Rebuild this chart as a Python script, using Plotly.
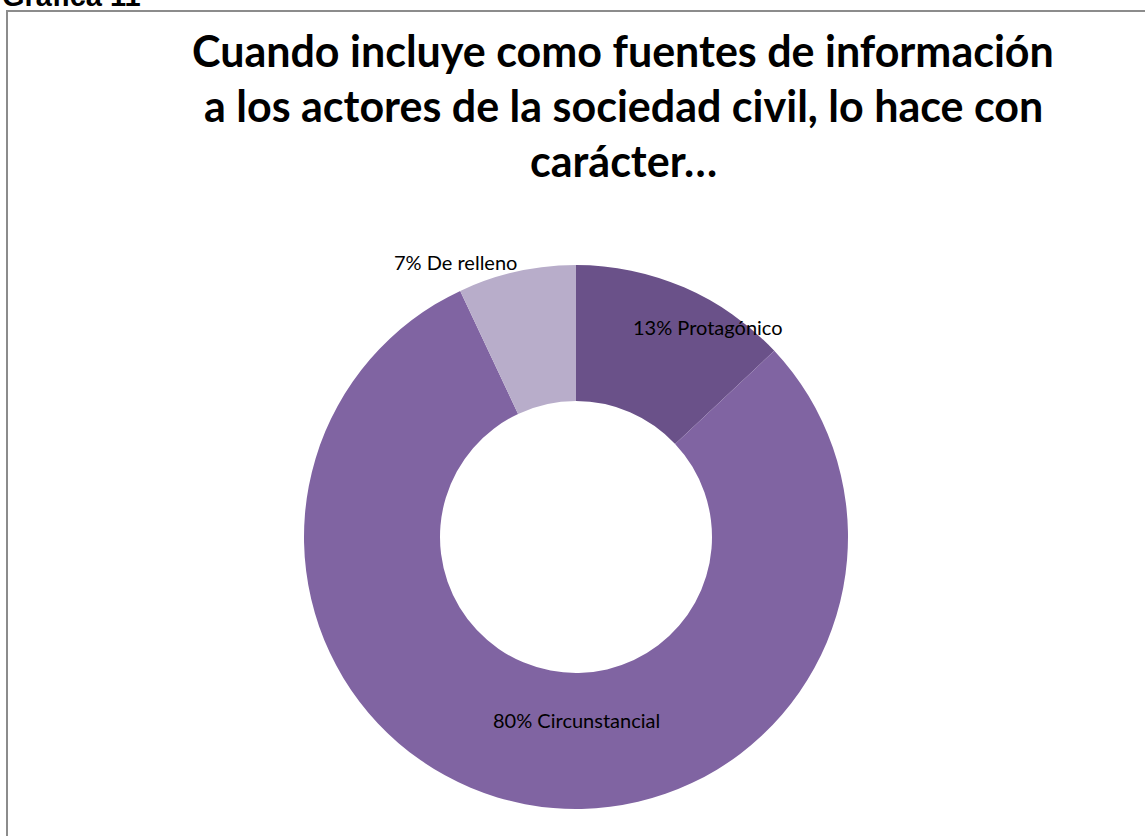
import plotly.graph_objects as go

# Chart data
categories = ["Protagónico", "Circunstancial", "De relleno"]
percentages = [13, 80, 7]
slice_colors = ["#6A5189", "#8064A2", "#B8ADCA"]

W, H = 1145, 836

# Donut geometry in pixels
cx, cy, R = 576, 537, 272

def px_x(x):
    return x / W

def px_y(y):
    return 1 - y / H

fig = go.Figure(
    go.Pie(
        labels=categories,
        values=percentages,
        hole=0.5,
        sort=False,
        direction="clockwise",
        rotation=0,
        marker=dict(colors=slice_colors, line=dict(width=0)),
        textinfo="none",
        hoverinfo="label+percent",
        showlegend=False,
        domain=dict(x=[px_x(cx - R), px_x(cx + R)], y=[px_y(cy + R), px_y(cy - R)]),
    )
)

# Data-label centres (pixels)
label_pos = [(708, 327), (576, 720), (455, 262)]
for name, pct, (lx, ly) in zip(categories, percentages, label_pos):
    fig.add_annotation(
        x=px_x(lx), y=px_y(ly), xref="paper", yref="paper",
        text=f"{pct}% {name}", showarrow=False,
        xanchor="center", yanchor="middle",
        font=dict(family="Lato, Carlito, sans-serif", size=20, color="#000000"),
    )

# Title
title_lines = [
    "Cuando incluye como fuentes de información",
    "a los actores de la sociedad civil, lo hace con",
    "carácter…",
]
for i, line in enumerate(title_lines):
    fig.add_annotation(
        x=px_x(623), y=px_y(50 + 55 * i), xref="paper", yref="paper",
        text=f"<b>{line}</b>", showarrow=False,
        xanchor="center", yanchor="middle",
        font=dict(family="Lato, Carlito, sans-serif", size=43, color="#000000"),
    )

# Caption above the frame
fig.add_annotation(
    x=0, y=px_y(14), xref="paper", yref="paper",
    text="<b>Gráfica 11</b>", showarrow=False,
    xanchor="left", yanchor="bottom",
    font=dict(family="Liberation Sans, Arial, sans-serif", size=29, color="#000000"),
)

# Chart frame
fig.add_shape(
    type="rect", xref="paper", yref="paper",
    x0=px_x(7), x1=px_x(W + 20), y0=px_y(H + 20), y1=px_y(11),
    line=dict(color="#8C8C8C", width=2), fillcolor="rgba(0,0,0,0)",
)

fig.update_layout(
    width=W, height=H,
    margin=dict(l=0, r=0, t=0, b=0),
    paper_bgcolor="#FFFFFF",
    plot_bgcolor="#FFFFFF",
)

fig.write_html("out.html")
